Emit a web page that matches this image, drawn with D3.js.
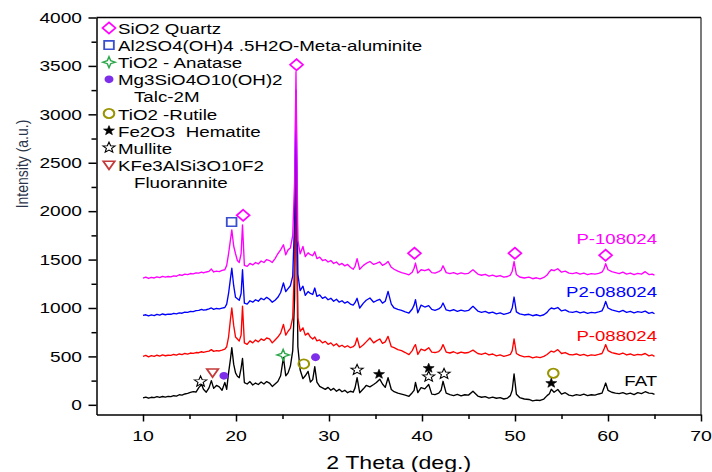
<!DOCTYPE html>
<html><head><meta charset="utf-8">
<script src="https://cdn.jsdelivr.net/npm/d3@7"></script>
<style>
html,body{margin:0;padding:0;background:#fff;}
svg{display:block;font-family:"Liberation Sans",Arial,sans-serif;}
text{white-space:pre;}
</style>
</head><body>
<svg id="c" width="712" height="472"></svg>
<script>
// ---------------- DATA ----------------
const twoTheta = [10.0,10.3,10.6,10.9,11.2,11.5,11.8,12.1,12.4,12.7,
13.0,13.3,13.6,13.9,14.2,14.5,14.8,15.1,15.4,15.7,
16.0,16.3,16.5,16.8,17.1,17.35,17.6,17.9,18.2,18.5,
18.8,19.0,19.2,19.4,19.55,19.75,19.95,20.15,20.35,20.55,
20.7,20.9,21.2,21.5,21.8,22.1,22.4,22.7,23.0,23.3,
23.6,23.9,24.2,24.5,24.8,25.1,25.35,25.6,25.85,26.1,
26.3,26.45,26.65,26.9,27.2,27.45,27.75,28.0,28.25,28.47,
28.7,29.0,29.3,29.6,29.9,30.2,30.5,30.8,31.1,31.4,
31.7,32.0,32.3,32.6,32.8,33.02,33.3,33.7,34.0,34.4,
34.8,35.1,35.46,35.75,36.05,36.35,36.7,37.0,37.4,37.8,
38.2,38.6,38.95,39.15,39.3,39.55,39.9,40.3,40.72,41.05,
41.4,41.8,42.05,42.26,42.6,43.0,43.4,43.8,44.2,44.6,
45.0,45.48,46.0,46.4,46.8,47.2,47.6,48.0,48.4,48.8,
49.2,49.5,49.7,49.9,50.15,50.5,51.0,51.5,51.9,52.3,
52.7,53.1,53.45,53.7,53.9,54.2,54.6,55.0,55.4,55.8,
56.2,56.6,57.0,57.4,57.8,58.2,58.6,59.0,59.35,59.55,
59.75,60.0,60.4,60.8,61.2,61.6,62.0,62.4,62.8,63.2,
63.6,64.0,64.4,64.75,65.0];

const fat = [72,80,68,78,74,84,76,86,80,88,
84,94,90,104,100,112,118,128,136,132,
178,210,160,130,175,250,170,200,185,150,
230,160,330,470,590,420,330,295,280,380,
480,230,215,240,205,225,210,235,215,240,
225,190,215,240,300,490,300,330,400,560,
1100,2700,600,360,270,300,345,235,260,395,
235,190,175,160,180,150,170,140,160,135,
150,125,140,130,175,280,125,165,200,185,
210,230,265,215,180,280,158,135,120,110,
100,88,125,150,232,127,178,165,209,110,
106,120,150,243,120,105,95,108,92,104,
100,140,90,78,85,70,80,68,74,60,
70,95,150,320,110,75,60,55,40,48,
45,60,95,115,160,130,158,110,125,100,
92,105,98,110,95,104,100,112,120,170,
225,150,130,120,115,125,110,120,105,125,
115,135,120,118,108];

const p088024 = [501,510,495,508,500,512,503,515,507,512,
510,520,514,525,518,530,524,535,532,540,
538,548,542,550,555,570,552,560,556,565,
575,600,700,880,1000,820,700,680,660,720,
1020,640,625,660,640,670,650,680,665,690,
680,640,670,700,740,830,720,760,790,900,
1500,3000,900,760,795,720,740,700,680,700,
660,670,640,655,625,640,610,630,600,615,
595,610,590,600,620,690,590,620,650,690,
640,660,680,635,650,707,600,590,570,560,
540,518,560,600,622,520,575,560,590,545,
540,550,575,622,545,535,548,530,545,535,
540,565,530,520,535,515,525,505,515,500,
510,520,560,680,530,510,495,500,485,495,
488,500,520,540,555,545,570,530,540,520,
515,525,510,520,505,515,510,520,530,570,
622,560,540,530,520,535,515,525,510,520,
515,530,505,515,500];

const p2088024 = [923,930,918,928,922,935,926,938,930,936,
935,945,940,950,946,958,955,965,962,972,
975,985,978,982,990,1000,985,995,990,998,
1005,1040,1150,1300,1410,1230,1110,1095,1080,1150,
1395,1050,1040,1075,1060,1085,1070,1100,1085,1110,
1090,1060,1080,1110,1160,1258,1170,1200,1230,1330,
1900,3250,1350,1180,1225,1130,1170,1150,1140,1206,
1120,1135,1100,1115,1085,1100,1070,1090,1060,1075,
1050,1065,1040,1030,1055,1100,1000,1050,1080,1103,
1060,1075,1090,1050,1070,1171,1040,1000,985,975,
960,948,990,1030,1086,950,1030,1010,1025,985,
975,990,1010,1051,980,970,982,965,978,968,
975,1017,968,955,965,948,958,940,950,935,
945,955,1000,1113,960,940,928,935,920,930,
918,930,955,985,1000,990,1005,970,980,960,
955,965,950,960,945,955,950,960,970,1010,
1068,1000,980,970,960,975,955,965,950,962,
955,968,945,955,940];

const p108024 = [1309,1318,1305,1316,1310,1322,1314,1326,1318,1325,
1322,1332,1328,1343,1336,1350,1344,1356,1352,1362,
1360,1370,1362,1372,1378,1402,1372,1380,1376,1388,
1395,1440,1560,1700,1807,1640,1560,1490,1470,1560,
1859,1440,1430,1460,1445,1470,1455,1485,1470,1500,
1490,1470,1510,1560,1600,1653,1550,1600,1620,1750,
2300,3440,1700,1560,1635,1532,1570,1550,1540,1580,
1510,1525,1490,1500,1475,1490,1460,1475,1445,1460,
1435,1450,1420,1400,1430,1510,1400,1440,1460,1480,
1450,1460,1475,1440,1455,1480,1420,1400,1380,1365,
1355,1343,1370,1410,1464,1360,1395,1385,1400,1365,
1360,1375,1390,1436,1365,1355,1365,1350,1362,1352,
1358,1395,1350,1338,1348,1330,1340,1325,1335,1318,
1325,1340,1380,1480,1345,1320,1310,1318,1302,1312,
1300,1315,1340,1375,1395,1385,1405,1370,1380,1360,
1355,1365,1350,1360,1345,1355,1350,1358,1370,1400,
1457,1395,1375,1365,1355,1370,1350,1360,1345,1358,
1350,1375,1345,1350,1340];

const seriesNames = ["FAT", "P-088024", "P2-088024", "P-108024"];

const xMajorTicks = [10, 20, 30, 40, 50, 60, 70];
const xMinorTicks = [15, 25, 35, 45, 55, 65];
const yMajorTicks = [0, 500, 1000, 1500, 2000, 2500, 3000, 3500, 4000];
const yMinorTicks = [250, 750, 1250, 1750, 2250, 2750, 3250, 3750];

const phaseNames = ["SiO2 Quartz", "Al2SO4(OH)4 .5H2O-Meta-aluminite", "TiO2 - Anatase",
  "Mg3SiO4O10(OH)2|Talc-2M", "TiO2 -Rutile", "Fe2O3  Hematite", "Mullite", "KFe3AlSi3O10F2|Fluorannite"];

const markerPhase = [0,0,0,0,0, 1, 2, 3,3, 4,4, 5,5,5, 6,6,6,6, 7];
const markerTheta = [20.77,26.51,39.19,49.99,59.74, 19.53, 25.07, 18.7,28.55, 27.29,54.12, 35.38,40.72,53.9, 16.19,33.02,40.72,42.37, 17.48];
const markerIntensity = [1957,3512,1565,1565,1545, 1888, 515, 299,491, 422,326, 316,378,223, 240,360,291,319, 333];

// ---------------- STYLE ----------------
const seriesColors = ["#000000", "#ff0000", "#0000ff", "#ff00ff"];
const phaseStyle = [
  {shape:"diamond", stroke:"#ff00ff", fill:"none", sw:1.6},
  {shape:"square", stroke:"#3a4fcf", fill:"none", sw:1.6},
  {shape:"star4", stroke:"#2ea84c", fill:"none", sw:1.3},
  {shape:"circle", stroke:"none", fill:"#7d2ee8", sw:0},
  {shape:"ocircle", stroke:"#9a9400", fill:"none", sw:1.8},
  {shape:"star", stroke:"#000", fill:"#000", sw:0.6},
  {shape:"ostar", stroke:"#000", fill:"none", sw:1.0},
  {shape:"tri", stroke:"#c43a3a", fill:"none", sw:1.6}
];

function shapePath(name){
  const p = d3.path();
  if (name === "diamond"){ const s=5.6; p.moveTo(0,-s); p.lineTo(s,0); p.lineTo(0,s); p.lineTo(-s,0); p.closePath(); }
  else if (name === "square"){ const s=4.2; p.rect(-s,-s,2*s,2*s); }
  else if (name === "star4"){ const r=5.5,i=1.5; p.moveTo(0,-r); p.lineTo(i,-i); p.lineTo(r,0); p.lineTo(i,i); p.lineTo(0,r); p.lineTo(-i,i); p.lineTo(-r,0); p.lineTo(-i,-i); p.closePath(); }
  else if (name === "circle"){ p.arc(0,0,3.9,0,2*Math.PI); }
  else if (name === "ocircle"){ p.moveTo(4.6,0); p.arc(0,0,4.6,0,2*Math.PI); }
  else if (name === "star" || name === "ostar"){
    const R = name==="star"?5.0:5.6, r = name==="star"?2.1:2.4;
    for (let k=0;k<10;k++){ const a=-Math.PI/2 + k*Math.PI/5, rr = k%2?r:R;
      const px=rr*Math.cos(a), py=rr*Math.sin(a); if(k===0)p.moveTo(px,py); else p.lineTo(px,py);}
    p.closePath();
  }
  else if (name === "tri"){ p.moveTo(-5,-3.6); p.lineTo(5,-3.6); p.lineTo(0,4.6); p.closePath(); }
  return p.toString();
}

// ---------------- CHART ----------------
const svg = d3.select("#c");
const x = d3.scaleLinear().domain([5, 70]).range([96.5, 701]);
const y = d3.scaleLinear().domain([-100, 4000]).range([414.5, 17.5]);
const SX = 1.25; // horizontal stretch of the original raster

function stext(g, tx, ty, str, size, sx, anchor, fill){
  return g.append("text").attr("transform", `translate(${tx},${ty}) scale(${sx},1)`)
    .attr("text-anchor", anchor).attr("font-size", size).attr("fill", fill || "#000").text(str);
}

// curves
const seriesData = [fat, p088024, p2088024, p108024];
const line = d3.line().x((d,i) => x(twoTheta[i])).y(d => y(d));
seriesData.forEach((s, k) => {
  svg.append("path").datum(s).attr("d", line).attr("fill", "none")
    .attr("stroke", seriesColors[k]).attr("stroke-width", 1.35).attr("stroke-linejoin", "round");
});

// frame (top & right)
const [x0, x1] = x.range(), [yb, yt] = y.range();
svg.append("line").attr("x1", x0).attr("x2", x1).attr("y1", yt).attr("y2", yt).attr("stroke", "#000").attr("stroke-width", 1.3);
svg.append("line").attr("x1", x1).attr("x2", x1).attr("y1", yt).attr("y2", yb).attr("stroke", "#222").attr("stroke-width", 1.2);

// axes
const gx = svg.append("g").attr("transform", `translate(0,${yb})`);
gx.call(d3.axisBottom(x).tickValues(xMajorTicks).tickSize(7).tickSizeOuter(0).tickFormat(""));
gx.call(g => g.append("g").call(d3.axisBottom(x).tickValues(xMinorTicks).tickSize(4.5).tickSizeOuter(0).tickFormat("")).select(".domain").remove());
gx.selectAll("path,line").attr("stroke", "#000").attr("stroke-width", 1.5);

const gy = svg.append("g").attr("transform", `translate(${x0},0)`);
gy.call(d3.axisLeft(y).tickValues(yMajorTicks).tickSize(8).tickSizeOuter(0).tickFormat(""));
gy.call(g => g.append("g").call(d3.axisLeft(y).tickValues(yMinorTicks).tickSize(5).tickSizeOuter(0).tickFormat("")).select(".domain").remove());
gy.selectAll("path,line").attr("stroke", "#000").attr("stroke-width", 1.5);

// tick labels
xMajorTicks.forEach(v => stext(svg, x(v), 441, String(v), 15, 1.3, "middle"));
yMajorTicks.forEach(v => stext(svg, 82, y(v) + 5.3, String(v), 14.5, 1.32, "end"));

// axis titles
stext(svg, (x0 + x1) / 2, 469, "2 Theta (deg.)", 18.5, 1.25, "middle");
svg.append("text").attr("transform", "translate(28,164) scale(1.2,1) rotate(-90)")
  .attr("text-anchor", "middle").attr("font-size", 14).attr("fill", "#2a3448").text("Intensity (a.u.)");

// series labels
const labelBaselines = [386, 341, 297, 244];
seriesNames.forEach((n, k) => stext(svg, 657, labelBaselines[k], n, 15, 1.24, "end", seriesColors[k]));

// markers
markerTheta.forEach((t, i) => {
  const st = phaseStyle[markerPhase[i]];
  svg.append("path").attr("d", shapePath(st.shape))
    .attr("transform", `translate(${x(t)},${y(markerIntensity[i])}) scale(1.15,1)`)
    .attr("fill", st.fill).attr("stroke", st.stroke).attr("stroke-width", st.sw).attr("stroke-linejoin", "miter");
});

// legend
let lineIdx = 0;
const lg = svg.append("g");
phaseNames.forEach((name, k) => {
  const parts = name.split("|");
  const base = 34 + lineIdx * 17.1;
  const st = phaseStyle[k];
  lg.append("path").attr("d", shapePath(st.shape))
    .attr("transform", `translate(109,${base - 6}) scale(1.15,1)`)
    .attr("fill", st.fill).attr("stroke", st.stroke).attr("stroke-width", st.sw);
  stext(lg, 118, base, parts[0], 15, SX, "start");
  lineIdx++;
  for (let j = 1; j < parts.length; j++) {
    stext(lg, 134, 34 + lineIdx * 17.1, parts[j], 15, SX, "start");
    lineIdx++;
  }
});
</script>
</body></html>
